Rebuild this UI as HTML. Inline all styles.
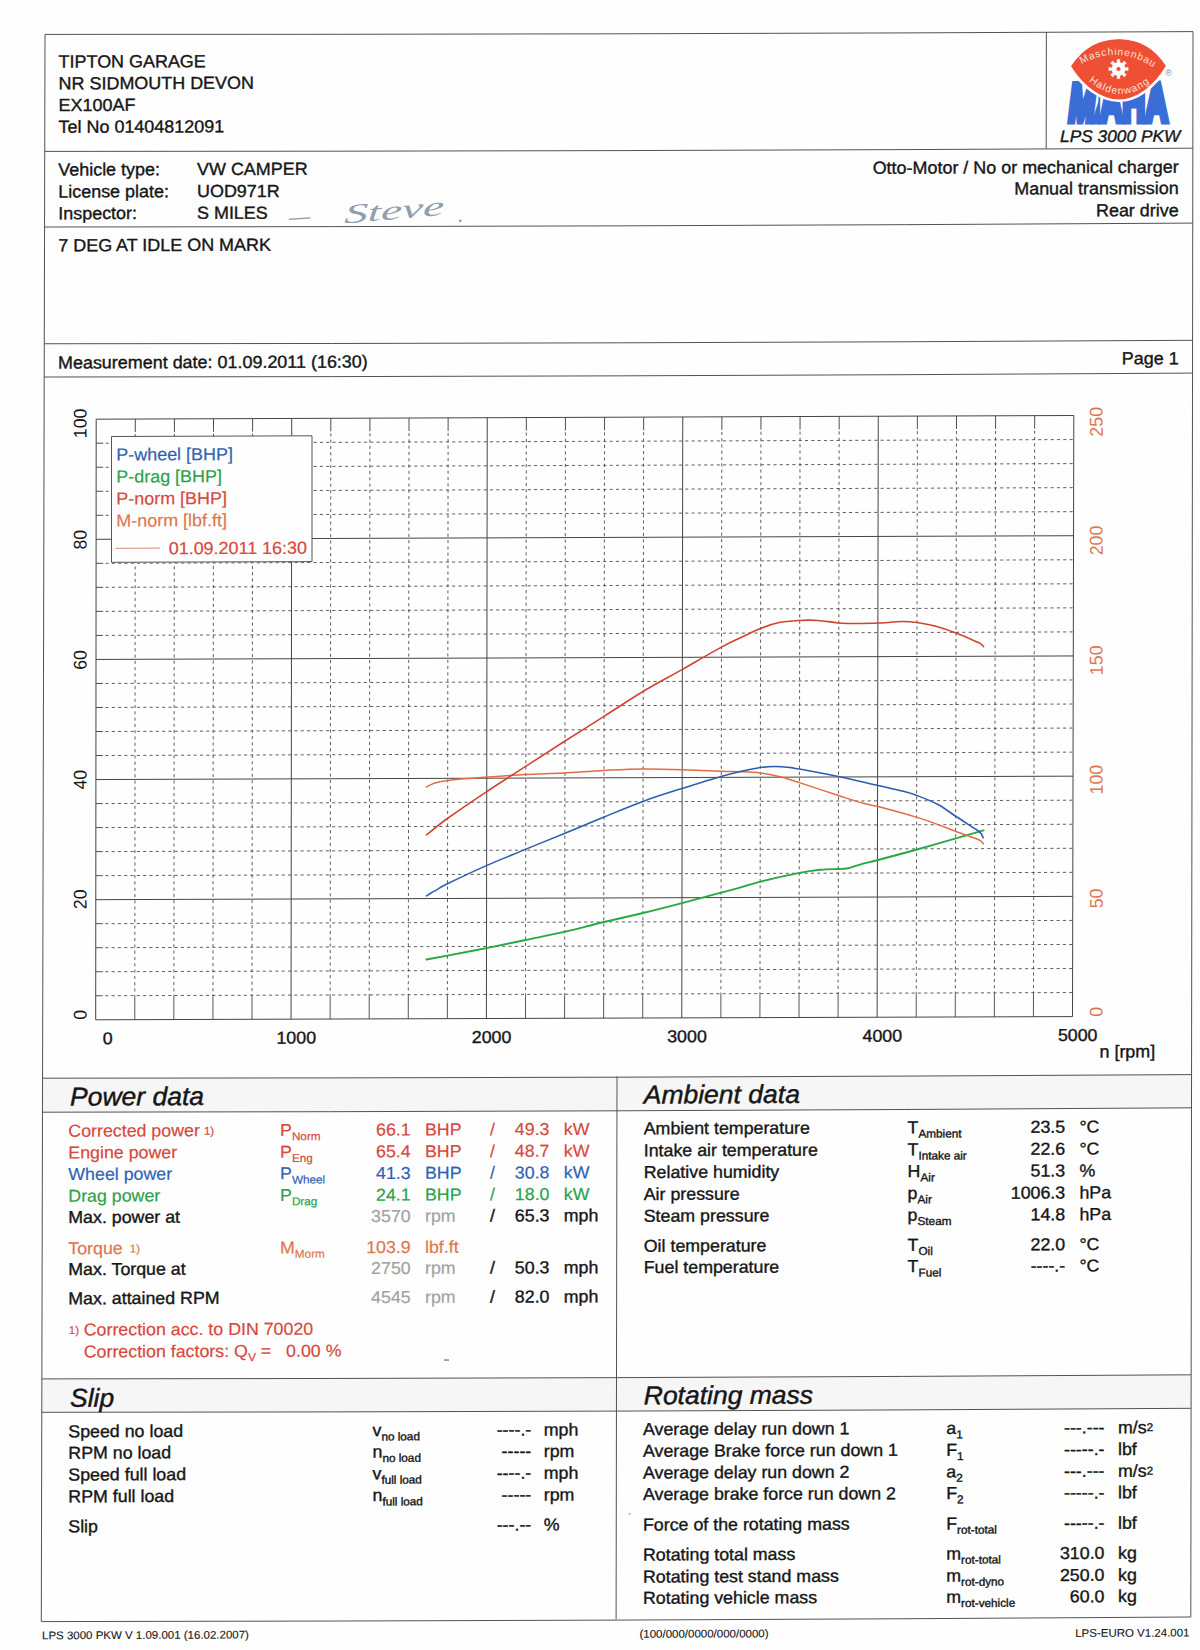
<!DOCTYPE html>
<html lang="en"><head><meta charset="utf-8"><title>LPS 3000 PKW - dyno report</title>
<style>
html,body{margin:0;padding:0;background:#fff}
body{width:1200px;height:1650px;overflow:hidden;position:relative}
svg{position:absolute;left:0;top:0;display:block}
text{font-family:'Liberation Sans', Arial, sans-serif;white-space:pre}
</style></head><body>
<svg width="1200" height="1650" viewBox="0 0 1200 1650">
<rect width="1200" height="1650" fill="#fefefe"/>
<polygon points="42.6,1078.2 1191.5,1074.6 1191.5,1107.8 42.5,1112.2" fill="#f6f6f6"/>
<polygon points="41.9,1378.9 1191.1,1374.8 1191.1,1408.3 41.8,1412.3" fill="#f6f6f6"/>
<polyline points="45.00,34.40 332.00,34.30 619.00,33.80 906.00,32.90 1193.00,31.60" fill="none" stroke="#525252" stroke-width="1"/>
<polyline points="44.73,151.40 331.75,151.20 618.78,150.60 905.81,149.60 1192.84,148.20" fill="none" stroke="#525252" stroke-width="1"/>
<polyline points="44.55,227.00 331.60,226.62 618.64,225.85 905.69,224.67 1192.73,223.10" fill="none" stroke="#525252" stroke-width="1"/>
<polyline points="44.28,343.75 331.35,343.49 618.42,342.82 905.50,341.76 1192.57,340.30" fill="none" stroke="#525252" stroke-width="1"/>
<polyline points="44.20,377.00 331.28,376.62 618.36,375.85 905.44,374.68 1192.52,373.10" fill="none" stroke="#525252" stroke-width="1"/>
<polyline points="42.57,1078.20 329.81,1077.90 617.05,1077.20 904.30,1076.10 1191.54,1074.60" fill="none" stroke="#525252" stroke-width="1"/>
<polyline points="42.49,1112.20 329.74,1111.70 616.99,1110.80 904.24,1109.50 1191.49,1107.80" fill="none" stroke="#525252" stroke-width="1"/>
<polyline points="41.87,1378.90 329.18,1378.47 616.49,1377.65 903.81,1376.42 1191.12,1374.80" fill="none" stroke="#525252" stroke-width="1"/>
<polyline points="41.79,1412.30 329.11,1411.90 616.43,1411.10 903.75,1409.90 1191.07,1408.30" fill="none" stroke="#525252" stroke-width="1"/>
<polyline points="41.30,1621.60 328.67,1621.05 616.04,1620.10 903.41,1618.75 1190.78,1617.00" fill="none" stroke="#525252" stroke-width="1"/>
<line x1="45" y1="34.4" x2="41.3" y2="1621.6" stroke="#525252" stroke-width="1"/>
<line x1="1193" y1="31.6" x2="1190.8" y2="1617" stroke="#525252" stroke-width="1"/>
<line x1="1046.4" y1="32" x2="1046.2" y2="148.6" stroke="#525252" stroke-width="1"/>
<line x1="617" y1="1076.4" x2="616.1" y2="1619.3" stroke="#525252" stroke-width="1"/>
<clipPath id="clipL"><rect x="1050" y="60" width="49.2" height="75"/></clipPath><clipPath id="clipR"><rect x="1098.5" y="60" width="90" height="75"/></clipPath>
<g clip-path="url(#clipL)"><text transform="translate(1072.4,79.4) skewX(-7) translate(0,41.5) scale(0.59,1)" text-anchor="start" font-size="53" font-weight="bold" fill="#3a6ed6" stroke="#3a6ed6" stroke-width="7" stroke-linejoin="miter" stroke-miterlimit="3">MAHA</text></g>
<g clip-path="url(#clipR)"><text transform="translate(1073.95,120.9) scale(0.59,1)" text-anchor="start" font-size="53" font-weight="bold" fill="#3a6ed6" stroke="#3a6ed6" stroke-width="7" stroke-linejoin="miter" stroke-miterlimit="3">MAHA</text></g>
<path d="M1071.8,66.2 C1085,46 1103,39.8 1119,39.8 C1136,39.8 1153,47 1165.2,66 C1153,86 1136,98.8 1119,98.8 C1102,98.8 1084,86 1071.8,66.2 Z" fill="#fff" stroke="#fff" stroke-width="6.5" stroke-linejoin="round"/>
<path d="M1071.8,66.2 C1085,46 1103,39.8 1119,39.8 C1136,39.8 1153,47 1165.2,66 C1153,86 1136,98.8 1119,98.8 C1102,98.8 1084,86 1071.8,66.2 Z" fill="#ee4f35" stroke="#ee4f35" stroke-width="1.2" stroke-linejoin="round"/>
<polygon points="1116.93,62.59 1116.81,59.14 1120.19,59.14 1120.07,62.59 1121.92,63.36 1124.27,60.83 1126.67,63.23 1124.14,65.58 1124.91,67.43 1128.36,67.31 1128.36,70.69 1124.91,70.57 1124.14,72.42 1126.67,74.77 1124.27,77.17 1121.92,74.64 1120.07,75.41 1120.19,78.86 1116.81,78.86 1116.93,75.41 1115.08,74.64 1112.73,77.17 1110.33,74.77 1112.86,72.42 1112.09,70.57 1108.64,70.69 1108.64,67.31 1112.09,67.43 1112.86,65.58 1110.33,63.23 1112.73,60.83 1115.08,63.36" fill="#fff"/>
<circle cx="1118.5" cy="69.0" r="6.7" fill="#fff"/>
<circle cx="1118.5" cy="69.0" r="2.1" fill="#ee4f35"/>
<defs><path id="arcTop" d="M1081.5,64.2 Q1117,44.6 1152.2,66.6"/><path id="arcBot" d="M1088.6,81.2 Q1120,106.2 1149.8,82.6"/></defs>
<text font-size="10.2" fill="#fbe3d0" letter-spacing="0.2"><textPath href="#arcTop" textLength="76" lengthAdjust="spacing">Maschinenbau</textPath></text>
<text font-size="10.2" fill="#fbe3d0" letter-spacing="0.2"><textPath href="#arcBot" textLength="67" lengthAdjust="spacing">Haldenwang</textPath></text>
<text x="1168.6" y="76.2" font-size="9.5" fill="#6d8fc4" text-anchor="middle">®</text>
<text transform="translate(289.5,224.5) rotate(-4) scale(1.9,1)" style="font-family:'Liberation Serif','DejaVu Serif',serif" font-style="italic" font-size="22" fill="#939dab">–</text>
<text transform="translate(344,223.6) rotate(-5) skewX(-8)" style="font-family:'Liberation Serif','DejaVu Serif',serif" font-style="italic" font-size="27" fill="#939dab" textLength="100" lengthAdjust="spacingAndGlyphs">Steve</text>
<text x="457.5" y="221.6" style="font-family:'Liberation Serif',serif" font-size="22" fill="#939dab">.</text>
<text transform="matrix(1,-0.0026,0,0.972,58.60,67.50)" font-size="17.95" fill="#161616" text-anchor="start" font-style="normal" font-weight="normal" stroke="#161616" stroke-width="0.38" >TIPTON GARAGE</text>
<text transform="matrix(1,-0.0026,0,0.972,58.60,89.25)" font-size="17.95" fill="#161616" text-anchor="start" font-style="normal" font-weight="normal" stroke="#161616" stroke-width="0.38" >NR SIDMOUTH DEVON</text>
<text transform="matrix(1,-0.0026,0,0.972,58.60,111.00)" font-size="17.95" fill="#161616" text-anchor="start" font-style="normal" font-weight="normal" stroke="#161616" stroke-width="0.38" >EX100AF</text>
<text transform="matrix(1,-0.0026,0,0.972,58.60,132.75)" font-size="17.95" fill="#161616" text-anchor="start" font-style="normal" font-weight="normal" stroke="#161616" stroke-width="0.38" >Tel No 01404812091</text>
<text transform="matrix(1,-0.0026,0,0.972,1060.00,142.10)" font-size="17.34" fill="#161616" text-anchor="start" font-style="italic" font-weight="normal" stroke="#161616" stroke-width="0.38" >LPS 3000 PKW</text>
<text transform="matrix(1,-0.0031,0,0.972,58.25,175.50)" font-size="17.95" fill="#161616" text-anchor="start" font-style="normal" font-weight="normal" stroke="#161616" stroke-width="0.38" >Vehicle type:</text>
<text transform="matrix(1,-0.0031,0,0.972,197.00,175.10)" font-size="17.95" fill="#161616" text-anchor="start" font-style="normal" font-weight="normal" stroke="#161616" stroke-width="0.38" >VW CAMPER</text>
<text transform="matrix(1,-0.0031,0,0.972,58.25,197.50)" font-size="17.95" fill="#161616" text-anchor="start" font-style="normal" font-weight="normal" stroke="#161616" stroke-width="0.38" >License plate:</text>
<text transform="matrix(1,-0.0031,0,0.972,197.00,197.10)" font-size="17.95" fill="#161616" text-anchor="start" font-style="normal" font-weight="normal" stroke="#161616" stroke-width="0.38" >UOD971R</text>
<text transform="matrix(1,-0.0031,0,0.972,58.25,219.25)" font-size="17.95" fill="#161616" text-anchor="start" font-style="normal" font-weight="normal" stroke="#161616" stroke-width="0.38" >Inspector:</text>
<text transform="matrix(1,-0.0031,0,0.972,197.00,218.85)" font-size="17.95" fill="#161616" text-anchor="start" font-style="normal" font-weight="normal" stroke="#161616" stroke-width="0.38" >S MILES</text>
<text transform="matrix(1,-0.0031,0,0.972,1178.70,172.80)" font-size="17.95" fill="#161616" text-anchor="end" font-style="normal" font-weight="normal" stroke="#161616" stroke-width="0.38" >Otto-Motor / No or mechanical charger</text>
<text transform="matrix(1,-0.0031,0,0.972,1178.70,194.00)" font-size="17.95" fill="#161616" text-anchor="end" font-style="normal" font-weight="normal" stroke="#161616" stroke-width="0.38" >Manual transmission</text>
<text transform="matrix(1,-0.0031,0,0.972,1178.70,216.10)" font-size="17.95" fill="#161616" text-anchor="end" font-style="normal" font-weight="normal" stroke="#161616" stroke-width="0.38" >Rear drive</text>
<text transform="matrix(1,-0.0031,0,0.972,58.25,251.25)" font-size="17.95" fill="#161616" text-anchor="start" font-style="normal" font-weight="normal" stroke="#161616" stroke-width="0.38" >7 DEG AT IDLE ON MARK</text>
<text transform="matrix(1,-0.0031,0,0.972,58.00,368.50)" font-size="17.95" fill="#161616" text-anchor="start" font-style="normal" font-weight="normal" stroke="#161616" stroke-width="0.38" >Measurement date: 01.09.2011 (16:30)</text>
<text transform="matrix(1,-0.0031,0,0.972,1178.70,364.10)" font-size="17.95" fill="#161616" text-anchor="end" font-style="normal" font-weight="normal" stroke="#161616" stroke-width="0.38" >Page 1</text>
<line x1="96.20" y1="419.20" x2="95.70" y2="1019.80" stroke="#444444" stroke-width="1"/>
<line x1="135.30" y1="419.05" x2="135.29" y2="432.07" stroke="#444444" stroke-width="0.95"/>
<line x1="135.29" y1="434.07" x2="134.79" y2="996.85" stroke="#484848" stroke-width="0.88" stroke-dasharray="3.1 3.2"/>
<line x1="134.79" y1="996.85" x2="134.77" y2="1019.67" stroke="#444444" stroke-width="0.9"/>
<line x1="174.41" y1="418.90" x2="174.40" y2="431.92" stroke="#444444" stroke-width="0.95"/>
<line x1="174.40" y1="433.92" x2="173.87" y2="996.72" stroke="#484848" stroke-width="0.88" stroke-dasharray="3.1 3.2"/>
<line x1="173.87" y1="996.72" x2="173.84" y2="1019.54" stroke="#444444" stroke-width="0.9"/>
<line x1="213.51" y1="418.76" x2="213.50" y2="431.77" stroke="#444444" stroke-width="0.95"/>
<line x1="213.50" y1="433.77" x2="212.94" y2="996.59" stroke="#484848" stroke-width="0.88" stroke-dasharray="3.1 3.2"/>
<line x1="212.94" y1="996.59" x2="212.92" y2="1019.42" stroke="#444444" stroke-width="0.9"/>
<line x1="252.62" y1="418.61" x2="252.60" y2="431.62" stroke="#444444" stroke-width="0.95"/>
<line x1="252.60" y1="433.62" x2="252.01" y2="996.46" stroke="#484848" stroke-width="0.88" stroke-dasharray="3.1 3.2"/>
<line x1="252.01" y1="996.46" x2="251.99" y2="1019.29" stroke="#444444" stroke-width="0.9"/>
<line x1="291.72" y1="418.46" x2="291.06" y2="1019.16" stroke="#444444" stroke-width="1"/>
<line x1="330.82" y1="418.31" x2="330.81" y2="431.33" stroke="#444444" stroke-width="0.95"/>
<line x1="330.81" y1="433.33" x2="330.16" y2="996.20" stroke="#484848" stroke-width="0.88" stroke-dasharray="3.1 3.2"/>
<line x1="330.16" y1="996.20" x2="330.13" y2="1019.03" stroke="#444444" stroke-width="0.9"/>
<line x1="369.93" y1="418.16" x2="369.91" y2="431.18" stroke="#444444" stroke-width="0.95"/>
<line x1="369.91" y1="433.18" x2="369.23" y2="996.08" stroke="#484848" stroke-width="0.88" stroke-dasharray="3.1 3.2"/>
<line x1="369.23" y1="996.08" x2="369.20" y2="1018.90" stroke="#444444" stroke-width="0.9"/>
<line x1="409.03" y1="418.02" x2="409.02" y2="431.03" stroke="#444444" stroke-width="0.95"/>
<line x1="409.02" y1="433.03" x2="408.30" y2="995.95" stroke="#484848" stroke-width="0.88" stroke-dasharray="3.1 3.2"/>
<line x1="408.30" y1="995.95" x2="408.28" y2="1018.78" stroke="#444444" stroke-width="0.9"/>
<line x1="448.14" y1="417.87" x2="448.12" y2="430.88" stroke="#444444" stroke-width="0.95"/>
<line x1="448.12" y1="432.88" x2="447.38" y2="995.82" stroke="#484848" stroke-width="0.88" stroke-dasharray="3.1 3.2"/>
<line x1="447.38" y1="995.82" x2="447.35" y2="1018.65" stroke="#444444" stroke-width="0.9"/>
<line x1="487.24" y1="417.72" x2="486.42" y2="1018.52" stroke="#444444" stroke-width="1"/>
<line x1="526.34" y1="417.57" x2="526.33" y2="430.59" stroke="#444444" stroke-width="0.95"/>
<line x1="526.33" y1="432.59" x2="525.52" y2="995.56" stroke="#484848" stroke-width="0.88" stroke-dasharray="3.1 3.2"/>
<line x1="525.52" y1="995.56" x2="525.49" y2="1018.39" stroke="#444444" stroke-width="0.9"/>
<line x1="565.45" y1="417.42" x2="565.43" y2="430.44" stroke="#444444" stroke-width="0.95"/>
<line x1="565.43" y1="432.44" x2="564.60" y2="995.43" stroke="#484848" stroke-width="0.88" stroke-dasharray="3.1 3.2"/>
<line x1="564.60" y1="995.43" x2="564.56" y2="1018.26" stroke="#444444" stroke-width="0.9"/>
<line x1="604.55" y1="417.28" x2="604.53" y2="430.29" stroke="#444444" stroke-width="0.95"/>
<line x1="604.53" y1="432.29" x2="603.67" y2="995.30" stroke="#484848" stroke-width="0.88" stroke-dasharray="3.1 3.2"/>
<line x1="603.67" y1="995.30" x2="603.64" y2="1018.14" stroke="#444444" stroke-width="0.9"/>
<line x1="643.66" y1="417.13" x2="643.64" y2="430.15" stroke="#444444" stroke-width="0.95"/>
<line x1="643.64" y1="432.15" x2="642.74" y2="995.17" stroke="#484848" stroke-width="0.88" stroke-dasharray="3.1 3.2"/>
<line x1="642.74" y1="995.17" x2="642.71" y2="1018.01" stroke="#444444" stroke-width="0.9"/>
<line x1="682.76" y1="416.98" x2="681.78" y2="1017.88" stroke="#444444" stroke-width="1"/>
<line x1="721.86" y1="416.83" x2="721.84" y2="429.85" stroke="#444444" stroke-width="0.95"/>
<line x1="721.84" y1="431.85" x2="720.89" y2="994.92" stroke="#484848" stroke-width="0.88" stroke-dasharray="3.1 3.2"/>
<line x1="720.89" y1="994.92" x2="720.85" y2="1017.75" stroke="#444444" stroke-width="0.9"/>
<line x1="760.97" y1="416.68" x2="760.95" y2="429.70" stroke="#444444" stroke-width="0.95"/>
<line x1="760.95" y1="431.70" x2="759.96" y2="994.79" stroke="#484848" stroke-width="0.88" stroke-dasharray="3.1 3.2"/>
<line x1="759.96" y1="994.79" x2="759.92" y2="1017.62" stroke="#444444" stroke-width="0.9"/>
<line x1="800.07" y1="416.54" x2="800.05" y2="429.56" stroke="#444444" stroke-width="0.95"/>
<line x1="800.05" y1="431.56" x2="799.04" y2="994.66" stroke="#484848" stroke-width="0.88" stroke-dasharray="3.1 3.2"/>
<line x1="799.04" y1="994.66" x2="799.00" y2="1017.50" stroke="#444444" stroke-width="0.9"/>
<line x1="839.18" y1="416.39" x2="839.15" y2="429.41" stroke="#444444" stroke-width="0.95"/>
<line x1="839.15" y1="431.41" x2="838.11" y2="994.53" stroke="#484848" stroke-width="0.88" stroke-dasharray="3.1 3.2"/>
<line x1="838.11" y1="994.53" x2="838.07" y2="1017.37" stroke="#444444" stroke-width="0.9"/>
<line x1="878.28" y1="416.24" x2="877.14" y2="1017.24" stroke="#444444" stroke-width="1"/>
<line x1="917.38" y1="416.09" x2="917.36" y2="429.11" stroke="#444444" stroke-width="0.95"/>
<line x1="917.36" y1="431.11" x2="916.26" y2="994.27" stroke="#484848" stroke-width="0.88" stroke-dasharray="3.1 3.2"/>
<line x1="916.26" y1="994.27" x2="916.21" y2="1017.11" stroke="#444444" stroke-width="0.9"/>
<line x1="956.49" y1="415.94" x2="956.46" y2="428.97" stroke="#444444" stroke-width="0.95"/>
<line x1="956.46" y1="430.97" x2="955.33" y2="994.14" stroke="#484848" stroke-width="0.88" stroke-dasharray="3.1 3.2"/>
<line x1="955.33" y1="994.14" x2="955.28" y2="1016.98" stroke="#444444" stroke-width="0.9"/>
<line x1="995.59" y1="415.80" x2="995.57" y2="428.82" stroke="#444444" stroke-width="0.95"/>
<line x1="995.57" y1="430.82" x2="994.40" y2="994.02" stroke="#484848" stroke-width="0.88" stroke-dasharray="3.1 3.2"/>
<line x1="994.40" y1="994.02" x2="994.36" y2="1016.86" stroke="#444444" stroke-width="0.9"/>
<line x1="1034.70" y1="415.65" x2="1034.67" y2="428.67" stroke="#444444" stroke-width="0.95"/>
<line x1="1034.67" y1="430.67" x2="1033.48" y2="993.89" stroke="#484848" stroke-width="0.88" stroke-dasharray="3.1 3.2"/>
<line x1="1033.48" y1="993.89" x2="1033.43" y2="1016.73" stroke="#444444" stroke-width="0.9"/>
<line x1="1073.80" y1="415.50" x2="1072.50" y2="1016.60" stroke="#444444" stroke-width="1"/>
<line x1="96.20" y1="419.20" x2="1073.80" y2="415.50" stroke="#444444" stroke-width="1"/>
<line x1="96.18" y1="443.22" x2="103.18" y2="443.20" stroke="#444444" stroke-width="0.95"/>
<line x1="105.68" y1="443.20" x2="1073.75" y2="439.54" stroke="#484848" stroke-width="0.88" stroke-dasharray="3.1 3.2"/>
<line x1="96.16" y1="467.25" x2="103.16" y2="467.22" stroke="#444444" stroke-width="0.95"/>
<line x1="105.66" y1="467.22" x2="1073.70" y2="463.59" stroke="#484848" stroke-width="0.88" stroke-dasharray="3.1 3.2"/>
<line x1="96.14" y1="491.27" x2="103.14" y2="491.25" stroke="#444444" stroke-width="0.95"/>
<line x1="105.64" y1="491.25" x2="1073.64" y2="487.63" stroke="#484848" stroke-width="0.88" stroke-dasharray="3.1 3.2"/>
<line x1="96.12" y1="515.30" x2="103.12" y2="515.27" stroke="#444444" stroke-width="0.95"/>
<line x1="105.62" y1="515.27" x2="1073.59" y2="511.68" stroke="#484848" stroke-width="0.88" stroke-dasharray="3.1 3.2"/>
<line x1="96.10" y1="539.32" x2="1073.54" y2="535.72" stroke="#444444" stroke-width="1"/>
<line x1="96.08" y1="563.34" x2="103.08" y2="563.32" stroke="#444444" stroke-width="0.95"/>
<line x1="105.58" y1="563.32" x2="1073.49" y2="559.76" stroke="#484848" stroke-width="0.88" stroke-dasharray="3.1 3.2"/>
<line x1="96.06" y1="587.37" x2="103.06" y2="587.34" stroke="#444444" stroke-width="0.95"/>
<line x1="105.56" y1="587.34" x2="1073.44" y2="583.81" stroke="#484848" stroke-width="0.88" stroke-dasharray="3.1 3.2"/>
<line x1="96.04" y1="611.39" x2="103.04" y2="611.37" stroke="#444444" stroke-width="0.95"/>
<line x1="105.54" y1="611.37" x2="1073.38" y2="607.85" stroke="#484848" stroke-width="0.88" stroke-dasharray="3.1 3.2"/>
<line x1="96.02" y1="635.42" x2="103.02" y2="635.39" stroke="#444444" stroke-width="0.95"/>
<line x1="105.52" y1="635.39" x2="1073.33" y2="631.90" stroke="#484848" stroke-width="0.88" stroke-dasharray="3.1 3.2"/>
<line x1="96.00" y1="659.44" x2="1073.28" y2="655.94" stroke="#444444" stroke-width="1"/>
<line x1="95.98" y1="683.46" x2="102.98" y2="683.44" stroke="#444444" stroke-width="0.95"/>
<line x1="105.48" y1="683.44" x2="1073.23" y2="679.98" stroke="#484848" stroke-width="0.88" stroke-dasharray="3.1 3.2"/>
<line x1="95.96" y1="707.49" x2="102.96" y2="707.46" stroke="#444444" stroke-width="0.95"/>
<line x1="105.46" y1="707.46" x2="1073.18" y2="704.03" stroke="#484848" stroke-width="0.88" stroke-dasharray="3.1 3.2"/>
<line x1="95.94" y1="731.51" x2="102.94" y2="731.49" stroke="#444444" stroke-width="0.95"/>
<line x1="105.44" y1="731.49" x2="1073.12" y2="728.07" stroke="#484848" stroke-width="0.88" stroke-dasharray="3.1 3.2"/>
<line x1="95.92" y1="755.54" x2="102.92" y2="755.51" stroke="#444444" stroke-width="0.95"/>
<line x1="105.42" y1="755.51" x2="1073.07" y2="752.12" stroke="#484848" stroke-width="0.88" stroke-dasharray="3.1 3.2"/>
<line x1="95.90" y1="779.56" x2="1073.02" y2="776.16" stroke="#444444" stroke-width="1"/>
<line x1="95.88" y1="803.58" x2="102.88" y2="803.56" stroke="#444444" stroke-width="0.95"/>
<line x1="105.38" y1="803.56" x2="1072.97" y2="800.20" stroke="#484848" stroke-width="0.88" stroke-dasharray="3.1 3.2"/>
<line x1="95.86" y1="827.61" x2="102.86" y2="827.58" stroke="#444444" stroke-width="0.95"/>
<line x1="105.36" y1="827.58" x2="1072.92" y2="824.25" stroke="#484848" stroke-width="0.88" stroke-dasharray="3.1 3.2"/>
<line x1="95.84" y1="851.63" x2="102.84" y2="851.61" stroke="#444444" stroke-width="0.95"/>
<line x1="105.34" y1="851.61" x2="1072.86" y2="848.29" stroke="#484848" stroke-width="0.88" stroke-dasharray="3.1 3.2"/>
<line x1="95.82" y1="875.66" x2="102.82" y2="875.63" stroke="#444444" stroke-width="0.95"/>
<line x1="105.32" y1="875.63" x2="1072.81" y2="872.34" stroke="#484848" stroke-width="0.88" stroke-dasharray="3.1 3.2"/>
<line x1="95.80" y1="899.68" x2="1072.76" y2="896.38" stroke="#444444" stroke-width="1"/>
<line x1="95.78" y1="923.70" x2="102.78" y2="923.68" stroke="#444444" stroke-width="0.95"/>
<line x1="105.28" y1="923.68" x2="1072.71" y2="920.42" stroke="#484848" stroke-width="0.88" stroke-dasharray="3.1 3.2"/>
<line x1="95.76" y1="947.73" x2="102.76" y2="947.70" stroke="#444444" stroke-width="0.95"/>
<line x1="105.26" y1="947.70" x2="1072.66" y2="944.47" stroke="#484848" stroke-width="0.88" stroke-dasharray="3.1 3.2"/>
<line x1="95.74" y1="971.75" x2="102.74" y2="971.73" stroke="#444444" stroke-width="0.95"/>
<line x1="105.24" y1="971.73" x2="1072.60" y2="968.51" stroke="#484848" stroke-width="0.88" stroke-dasharray="3.1 3.2"/>
<line x1="95.72" y1="995.78" x2="102.72" y2="995.75" stroke="#444444" stroke-width="0.95"/>
<line x1="105.22" y1="995.75" x2="1072.55" y2="992.56" stroke="#484848" stroke-width="0.88" stroke-dasharray="3.1 3.2"/>
<line x1="95.70" y1="1019.80" x2="1072.50" y2="1016.60" stroke="#444444" stroke-width="1"/>
<text transform="matrix(1,-0.0036,0,0.972,107.75,1044.20)" font-size="17.8" fill="#161616" text-anchor="middle" font-style="normal" font-weight="normal" stroke="#161616" stroke-width="0.38" >0</text>
<text transform="matrix(1,-0.0036,0,0.972,296.26,1043.56)" font-size="17.8" fill="#161616" text-anchor="middle" font-style="normal" font-weight="normal" stroke="#161616" stroke-width="0.38" >1000</text>
<text transform="matrix(1,-0.0036,0,0.972,491.62,1042.92)" font-size="17.8" fill="#161616" text-anchor="middle" font-style="normal" font-weight="normal" stroke="#161616" stroke-width="0.38" >2000</text>
<text transform="matrix(1,-0.0036,0,0.972,686.98,1042.28)" font-size="17.8" fill="#161616" text-anchor="middle" font-style="normal" font-weight="normal" stroke="#161616" stroke-width="0.38" >3000</text>
<text transform="matrix(1,-0.0036,0,0.972,882.34,1041.64)" font-size="17.8" fill="#161616" text-anchor="middle" font-style="normal" font-weight="normal" stroke="#161616" stroke-width="0.38" >4000</text>
<text transform="matrix(1,-0.0036,0,0.972,1077.70,1041.00)" font-size="17.8" fill="#161616" text-anchor="middle" font-style="normal" font-weight="normal" stroke="#161616" stroke-width="0.38" >5000</text>
<text transform="matrix(1,-0.0036,0,0.972,1099.50,1057.50)" font-size="17.9" fill="#161616" text-anchor="start" font-style="normal" font-weight="normal" stroke="#161616" stroke-width="0.38" >n [rpm]</text>
<text transform="translate(86.40,423.40) rotate(-90.2) scale(1,1.0288)" font-size="17.8" fill="#161616" text-anchor="middle">100</text>
<text transform="translate(86.40,539.70) rotate(-90.2) scale(1,1.0288)" font-size="17.8" fill="#161616" text-anchor="middle">80</text>
<text transform="translate(86.40,659.90) rotate(-90.2) scale(1,1.0288)" font-size="17.8" fill="#161616" text-anchor="middle">60</text>
<text transform="translate(86.40,779.70) rotate(-90.2) scale(1,1.0288)" font-size="17.8" fill="#161616" text-anchor="middle">40</text>
<text transform="translate(86.40,899.30) rotate(-90.2) scale(1,1.0288)" font-size="17.8" fill="#161616" text-anchor="middle">20</text>
<text transform="translate(86.40,1014.70) rotate(-90.2) scale(1,1.0288)" font-size="17.8" fill="#161616" text-anchor="middle">0</text>
<text transform="translate(1102.60,421.80) rotate(-90.2) scale(1,1.0288)" font-size="17.8" fill="#e0764e" text-anchor="middle">250</text>
<text transform="translate(1102.60,540.50) rotate(-90.2) scale(1,1.0288)" font-size="17.8" fill="#e0764e" text-anchor="middle">200</text>
<text transform="translate(1102.60,660.30) rotate(-90.2) scale(1,1.0288)" font-size="17.8" fill="#e0764e" text-anchor="middle">150</text>
<text transform="translate(1102.60,779.60) rotate(-90.2) scale(1,1.0288)" font-size="17.8" fill="#e0764e" text-anchor="middle">100</text>
<text transform="translate(1102.60,898.40) rotate(-90.2) scale(1,1.0288)" font-size="17.8" fill="#e0764e" text-anchor="middle">50</text>
<text transform="translate(1102.60,1011.90) rotate(-90.2) scale(1,1.0288)" font-size="17.8" fill="#e0764e" text-anchor="middle">0</text>
<path d="M426.4,959.5 C429.9,958.9 437.4,957.5 447.4,955.6 C457.4,953.7 473.4,950.7 486.4,948.1 C499.4,945.5 512.4,942.7 525.4,940.0 C538.4,937.3 551.3,934.9 564.4,931.9 C577.5,928.9 590.9,925.1 604.0,922.0 C617.1,918.9 630.0,916.1 643.0,913.0 C656.0,909.9 669.0,906.5 682.0,903.1 C695.0,899.7 711.3,895.2 721.0,892.6 C730.7,890.0 733.4,889.4 740.0,887.6 C746.6,885.8 750.5,884.1 760.4,881.6 C770.3,879.1 789.3,874.9 799.4,872.9 C809.5,870.9 814.5,870.4 821.0,869.7 C827.5,869.1 833.9,869.2 838.4,869.0 C842.9,868.8 844.4,869.0 848.0,868.3 C851.6,867.6 855.0,866.0 860.0,864.6 C865.0,863.2 868.5,862.5 878.0,860.0 C887.5,857.5 904.0,853.1 917.0,849.5 C930.0,845.9 944.9,841.6 956.0,838.4 C967.1,835.2 979.0,831.7 983.6,830.4" fill="none" stroke="#27a845" stroke-width="1.9" stroke-linejoin="round" stroke-linecap="round"/>
<path d="M426.4,787.0 C427.2,786.6 429.4,785.3 431.0,784.6 C432.6,783.9 434.3,783.3 436.0,782.8 C437.7,782.3 439.1,782.0 441.0,781.6 C442.9,781.2 443.1,781.1 447.4,780.6 C451.7,780.1 460.5,779.2 467.0,778.6 C473.5,778.0 476.7,777.8 486.4,777.1 C496.1,776.4 512.4,775.2 525.4,774.5 C538.4,773.8 551.3,773.6 564.4,772.9 C577.5,772.2 590.9,771.0 604.0,770.4 C617.1,769.8 630.0,769.1 643.0,769.0 C656.0,768.9 669.0,769.3 682.0,769.7 C695.0,770.1 711.3,770.9 721.0,771.2 C730.7,771.5 733.4,771.4 740.0,771.7 C746.6,772.0 753.9,772.2 760.4,773.0 C766.9,773.8 772.5,775.0 779.0,776.6 C785.5,778.2 789.5,779.5 799.4,782.6 C809.3,785.8 828.3,792.2 838.4,795.5 C848.5,798.8 853.4,800.5 860.0,802.4 C866.6,804.2 868.5,804.1 878.0,806.6 C887.5,809.1 907.0,814.4 917.0,817.4 C927.0,820.4 931.5,822.2 938.0,824.6 C944.5,827.0 949.5,829.1 956.0,831.5 C962.5,833.9 972.8,837.4 977.0,839.0 C981.2,840.6 979.9,840.4 981.0,841.2 C982.1,842.0 983.0,843.4 983.4,843.8" fill="none" stroke="#e26c44" stroke-width="1.5" stroke-linejoin="round" stroke-linecap="round"/>
<path d="M426.4,835.0 C429.9,832.2 437.4,825.7 447.4,818.5 C457.4,811.3 473.3,800.5 486.4,791.8 C499.5,783.1 512.9,774.7 526.0,766.2 C539.1,757.7 552.0,749.3 565.0,741.0 C578.0,732.7 591.0,724.6 604.0,716.4 C617.0,708.1 630.0,699.3 643.0,691.5 C656.0,683.7 669.0,677.0 682.0,669.6 C695.0,662.2 711.3,652.7 721.0,647.4 C730.7,642.1 733.4,641.1 740.0,638.0 C746.6,634.9 753.9,631.1 760.4,628.5 C766.9,625.9 772.5,624.0 779.0,622.6 C785.5,621.2 792.9,620.8 799.4,620.4 C805.9,620.0 811.5,620.0 818.0,620.4 C824.5,620.8 831.4,622.4 838.4,622.9 C845.4,623.4 853.4,623.4 860.0,623.4 C866.6,623.4 871.0,623.4 878.0,623.1 C885.0,622.8 895.5,621.7 902.0,621.6 C908.5,621.5 911.5,621.8 917.0,622.5 C922.5,623.2 928.5,624.4 935.0,626.1 C941.5,627.9 949.0,630.4 956.0,633.0 C963.0,635.6 972.8,640.1 977.0,642.0 C981.2,643.9 980.4,643.5 981.5,644.3 C982.6,645.1 983.2,646.4 983.6,646.8" fill="none" stroke="#d0432f" stroke-width="1.55" stroke-linejoin="round" stroke-linecap="round"/>
<path d="M426.4,895.9 C427.2,895.4 429.2,894.0 431.0,893.0 C432.8,892.0 434.3,891.1 437.0,889.6 C439.7,888.1 439.2,887.8 447.4,883.8 C455.6,879.8 473.4,871.3 486.4,865.6 C499.4,859.9 512.4,854.8 525.4,849.4 C538.4,844.0 551.3,838.9 564.4,833.5 C577.5,828.1 590.9,822.4 604.0,817.0 C617.1,811.6 630.0,806.1 643.0,801.4 C656.0,796.6 669.0,792.6 682.0,788.5 C695.0,784.4 711.3,779.3 721.0,776.5 C730.7,773.7 733.4,773.1 740.0,771.6 C746.6,770.1 754.6,768.5 760.4,767.6 C766.1,766.7 769.6,766.4 774.5,766.4 C779.4,766.4 785.9,767.0 790.0,767.5 C794.1,768.0 791.3,767.6 799.4,769.1 C807.5,770.6 825.3,773.9 838.4,776.6 C851.5,779.4 867.4,783.2 878.0,785.6 C888.6,788.0 895.5,789.4 902.0,791.0 C908.5,792.6 911.0,793.2 917.0,795.5 C923.0,797.8 931.5,801.0 938.0,804.5 C944.5,808.0 949.5,812.2 956.0,816.5 C962.5,820.8 972.8,827.2 977.0,830.0 C981.2,832.8 980.0,832.2 981.0,833.5 C982.0,834.8 982.9,837.1 983.3,837.8" fill="none" stroke="#2d5db0" stroke-width="1.55" stroke-linejoin="round" stroke-linecap="round"/>
<polygon points="111.5,436.5 312,435.8 312,561.6 111.5,562.3" fill="#fefefe" stroke="#555" stroke-width="1"/>
<text transform="matrix(1,-0.0036,0,0.972,116.30,460.50)" font-size="17.95" fill="#2f62b4" text-anchor="start" font-style="normal" font-weight="normal" stroke="#2f62b4" stroke-width="0.20" >P-wheel [BHP]</text>
<text transform="matrix(1,-0.0036,0,0.972,116.30,482.50)" font-size="17.95" fill="#2da14a" text-anchor="start" font-style="normal" font-weight="normal" stroke="#2da14a" stroke-width="0.20" >P-drag [BHP]</text>
<text transform="matrix(1,-0.0036,0,0.972,116.30,504.50)" font-size="17.95" fill="#d8483c" text-anchor="start" font-style="normal" font-weight="normal" stroke="#d8483c" stroke-width="0.20" >P-norm [BHP]</text>
<text transform="matrix(1,-0.0036,0,0.972,116.30,526.50)" font-size="17.95" fill="#e0764e" text-anchor="start" font-style="normal" font-weight="normal" stroke="#e0764e" stroke-width="0.20" >M-norm [lbf.ft]</text>
<line x1="115.5" y1="548.3" x2="160" y2="548.1" stroke="#d98a78" stroke-width="1"/>
<text transform="matrix(1,-0.0036,0,0.972,168.70,554.30)" font-size="17.95" fill="#d8483c" text-anchor="start" font-style="normal" font-weight="normal" stroke="#d8483c" stroke-width="0.20" >01.09.2011 16:30</text>
<text transform="matrix(1,-0.0037,0,0.972,70.00,1105.50)" font-size="26.5" fill="#161616" text-anchor="start" font-style="italic" font-weight="normal" stroke="#161616" stroke-width="0.46" >Power data</text>
<text transform="matrix(1,-0.0037,0,0.972,68.30,1136.75)" font-size="17.8" fill="#d8483c" text-anchor="start" font-style="normal" font-weight="normal" stroke="#d8483c" stroke-width="0.20" >Corrected power <tspan font-size="11.5" dx="-0.9" dy="-1.5">1)</tspan></text>
<text transform="matrix(1,-0.0037,0,0.972,280.00,1135.97)" font-size="17.8" fill="#d8483c" text-anchor="start" font-style="normal" font-weight="normal" stroke="#d8483c" stroke-width="0.20" >P<tspan font-size="11.75" dy="4.5">Norm</tspan></text>
<text transform="matrix(1,-0.0037,0,0.972,410.70,1135.49)" font-size="17.8" fill="#d8483c" text-anchor="end" font-style="normal" font-weight="normal" stroke="#d8483c" stroke-width="0.20" >66.1</text>
<text transform="matrix(1,-0.0037,0,0.972,425.00,1135.43)" font-size="17.8" fill="#d8483c" text-anchor="start" font-style="normal" font-weight="normal" stroke="#d8483c" stroke-width="0.20" >BHP</text>
<text transform="matrix(1,-0.0037,0,0.972,490.00,1135.19)" font-size="17.8" fill="#d8483c" text-anchor="start" font-style="normal" font-weight="normal" stroke="#d8483c" stroke-width="0.20" >/</text>
<text transform="matrix(1,-0.0037,0,0.972,549.50,1134.98)" font-size="17.8" fill="#d8483c" text-anchor="end" font-style="normal" font-weight="normal" stroke="#d8483c" stroke-width="0.20" >49.3</text>
<text transform="matrix(1,-0.0037,0,0.972,563.75,1134.92)" font-size="17.8" fill="#d8483c" text-anchor="start" font-style="normal" font-weight="normal" stroke="#d8483c" stroke-width="0.20" >kW</text>
<text transform="matrix(1,-0.0037,0,0.972,68.30,1158.50)" font-size="17.8" fill="#d8483c" text-anchor="start" font-style="normal" font-weight="normal" stroke="#d8483c" stroke-width="0.20" >Engine power</text>
<text transform="matrix(1,-0.0037,0,0.972,280.00,1157.72)" font-size="17.8" fill="#d8483c" text-anchor="start" font-style="normal" font-weight="normal" stroke="#d8483c" stroke-width="0.20" >P<tspan font-size="11.75" dy="4.5">Eng</tspan></text>
<text transform="matrix(1,-0.0037,0,0.972,410.70,1157.24)" font-size="17.8" fill="#d8483c" text-anchor="end" font-style="normal" font-weight="normal" stroke="#d8483c" stroke-width="0.20" >65.4</text>
<text transform="matrix(1,-0.0037,0,0.972,425.00,1157.18)" font-size="17.8" fill="#d8483c" text-anchor="start" font-style="normal" font-weight="normal" stroke="#d8483c" stroke-width="0.20" >BHP</text>
<text transform="matrix(1,-0.0037,0,0.972,490.00,1156.94)" font-size="17.8" fill="#d8483c" text-anchor="start" font-style="normal" font-weight="normal" stroke="#d8483c" stroke-width="0.20" >/</text>
<text transform="matrix(1,-0.0037,0,0.972,549.50,1156.73)" font-size="17.8" fill="#d8483c" text-anchor="end" font-style="normal" font-weight="normal" stroke="#d8483c" stroke-width="0.20" >48.7</text>
<text transform="matrix(1,-0.0037,0,0.972,563.75,1156.67)" font-size="17.8" fill="#d8483c" text-anchor="start" font-style="normal" font-weight="normal" stroke="#d8483c" stroke-width="0.20" >kW</text>
<text transform="matrix(1,-0.0037,0,0.972,68.30,1180.10)" font-size="17.8" fill="#2f62b4" text-anchor="start" font-style="normal" font-weight="normal" stroke="#2f62b4" stroke-width="0.20" >Wheel power</text>
<text transform="matrix(1,-0.0037,0,0.972,280.00,1179.32)" font-size="17.8" fill="#2f62b4" text-anchor="start" font-style="normal" font-weight="normal" stroke="#2f62b4" stroke-width="0.20" >P<tspan font-size="11.75" dy="4.5">Wheel</tspan></text>
<text transform="matrix(1,-0.0037,0,0.972,410.70,1178.84)" font-size="17.8" fill="#2f62b4" text-anchor="end" font-style="normal" font-weight="normal" stroke="#2f62b4" stroke-width="0.20" >41.3</text>
<text transform="matrix(1,-0.0037,0,0.972,425.00,1178.78)" font-size="17.8" fill="#2f62b4" text-anchor="start" font-style="normal" font-weight="normal" stroke="#2f62b4" stroke-width="0.20" >BHP</text>
<text transform="matrix(1,-0.0037,0,0.972,490.00,1178.54)" font-size="17.8" fill="#2f62b4" text-anchor="start" font-style="normal" font-weight="normal" stroke="#2f62b4" stroke-width="0.20" >/</text>
<text transform="matrix(1,-0.0037,0,0.972,549.50,1178.33)" font-size="17.8" fill="#2f62b4" text-anchor="end" font-style="normal" font-weight="normal" stroke="#2f62b4" stroke-width="0.20" >30.8</text>
<text transform="matrix(1,-0.0037,0,0.972,563.75,1178.27)" font-size="17.8" fill="#2f62b4" text-anchor="start" font-style="normal" font-weight="normal" stroke="#2f62b4" stroke-width="0.20" >kW</text>
<text transform="matrix(1,-0.0037,0,0.972,68.30,1201.80)" font-size="17.8" fill="#2da14a" text-anchor="start" font-style="normal" font-weight="normal" stroke="#2da14a" stroke-width="0.20" >Drag power</text>
<text transform="matrix(1,-0.0037,0,0.972,280.00,1201.02)" font-size="17.8" fill="#2da14a" text-anchor="start" font-style="normal" font-weight="normal" stroke="#2da14a" stroke-width="0.20" >P<tspan font-size="11.75" dy="4.5">Drag</tspan></text>
<text transform="matrix(1,-0.0037,0,0.972,410.70,1200.54)" font-size="17.8" fill="#2da14a" text-anchor="end" font-style="normal" font-weight="normal" stroke="#2da14a" stroke-width="0.20" >24.1</text>
<text transform="matrix(1,-0.0037,0,0.972,425.00,1200.48)" font-size="17.8" fill="#2da14a" text-anchor="start" font-style="normal" font-weight="normal" stroke="#2da14a" stroke-width="0.20" >BHP</text>
<text transform="matrix(1,-0.0037,0,0.972,490.00,1200.24)" font-size="17.8" fill="#2da14a" text-anchor="start" font-style="normal" font-weight="normal" stroke="#2da14a" stroke-width="0.20" >/</text>
<text transform="matrix(1,-0.0037,0,0.972,549.50,1200.03)" font-size="17.8" fill="#2da14a" text-anchor="end" font-style="normal" font-weight="normal" stroke="#2da14a" stroke-width="0.20" >18.0</text>
<text transform="matrix(1,-0.0037,0,0.972,563.75,1199.97)" font-size="17.8" fill="#2da14a" text-anchor="start" font-style="normal" font-weight="normal" stroke="#2da14a" stroke-width="0.20" >kW</text>
<text transform="matrix(1,-0.0037,0,0.972,68.30,1223.10)" font-size="17.8" fill="#161616" text-anchor="start" font-style="normal" font-weight="normal" stroke="#161616" stroke-width="0.38" >Max. power at</text>
<text transform="matrix(1,-0.0037,0,0.972,410.70,1221.84)" font-size="17.8" fill="#a2a2a2" text-anchor="end" font-style="normal" font-weight="normal" stroke="#a2a2a2" stroke-width="0.20" >3570</text>
<text transform="matrix(1,-0.0037,0,0.972,425.00,1221.78)" font-size="17.8" fill="#a2a2a2" text-anchor="start" font-style="normal" font-weight="normal" stroke="#a2a2a2" stroke-width="0.20" >rpm</text>
<text transform="matrix(1,-0.0037,0,0.972,490.00,1221.54)" font-size="17.8" fill="#161616" text-anchor="start" font-style="normal" font-weight="normal" stroke="#161616" stroke-width="0.38" >/</text>
<text transform="matrix(1,-0.0037,0,0.972,549.50,1221.33)" font-size="17.8" fill="#161616" text-anchor="end" font-style="normal" font-weight="normal" stroke="#161616" stroke-width="0.38" >65.3</text>
<text transform="matrix(1,-0.0037,0,0.972,563.75,1221.27)" font-size="17.8" fill="#161616" text-anchor="start" font-style="normal" font-weight="normal" stroke="#161616" stroke-width="0.38" >mph</text>
<text transform="matrix(1,-0.0037,0,0.972,68.30,1254.25)" font-size="17.8" fill="#e0764e" text-anchor="start" font-style="normal" font-weight="normal" stroke="#e0764e" stroke-width="0.20" >Torque <tspan font-size="11.5" dx="2.1" dy="-1.5">1)</tspan></text>
<text transform="matrix(1,-0.0037,0,0.972,280.00,1253.47)" font-size="17.8" fill="#e0764e" text-anchor="start" font-style="normal" font-weight="normal" stroke="#e0764e" stroke-width="0.20" >M<tspan font-size="11.75" dy="4.5">Morm</tspan></text>
<text transform="matrix(1,-0.0037,0,0.972,410.70,1252.99)" font-size="17.8" fill="#e0764e" text-anchor="end" font-style="normal" font-weight="normal" stroke="#e0764e" stroke-width="0.20" >103.9</text>
<text transform="matrix(1,-0.0037,0,0.972,425.00,1252.93)" font-size="17.8" fill="#e0764e" text-anchor="start" font-style="normal" font-weight="normal" stroke="#e0764e" stroke-width="0.20" >lbf.ft</text>
<text transform="matrix(1,-0.0037,0,0.972,68.30,1275.10)" font-size="17.8" fill="#161616" text-anchor="start" font-style="normal" font-weight="normal" stroke="#161616" stroke-width="0.38" >Max. Torque at</text>
<text transform="matrix(1,-0.0037,0,0.972,410.70,1273.84)" font-size="17.8" fill="#a2a2a2" text-anchor="end" font-style="normal" font-weight="normal" stroke="#a2a2a2" stroke-width="0.20" >2750</text>
<text transform="matrix(1,-0.0037,0,0.972,425.00,1273.78)" font-size="17.8" fill="#a2a2a2" text-anchor="start" font-style="normal" font-weight="normal" stroke="#a2a2a2" stroke-width="0.20" >rpm</text>
<text transform="matrix(1,-0.0037,0,0.972,490.00,1273.54)" font-size="17.8" fill="#161616" text-anchor="start" font-style="normal" font-weight="normal" stroke="#161616" stroke-width="0.38" >/</text>
<text transform="matrix(1,-0.0037,0,0.972,549.50,1273.33)" font-size="17.8" fill="#161616" text-anchor="end" font-style="normal" font-weight="normal" stroke="#161616" stroke-width="0.38" >50.3</text>
<text transform="matrix(1,-0.0037,0,0.972,563.75,1273.27)" font-size="17.8" fill="#161616" text-anchor="start" font-style="normal" font-weight="normal" stroke="#161616" stroke-width="0.38" >mph</text>
<text transform="matrix(1,-0.0037,0,0.972,68.30,1304.25)" font-size="17.8" fill="#161616" text-anchor="start" font-style="normal" font-weight="normal" stroke="#161616" stroke-width="0.38" >Max. attained RPM</text>
<text transform="matrix(1,-0.0037,0,0.972,410.70,1302.99)" font-size="17.8" fill="#a2a2a2" text-anchor="end" font-style="normal" font-weight="normal" stroke="#a2a2a2" stroke-width="0.20" >4545</text>
<text transform="matrix(1,-0.0037,0,0.972,425.00,1302.93)" font-size="17.8" fill="#a2a2a2" text-anchor="start" font-style="normal" font-weight="normal" stroke="#a2a2a2" stroke-width="0.20" >rpm</text>
<text transform="matrix(1,-0.0037,0,0.972,490.00,1302.69)" font-size="17.8" fill="#161616" text-anchor="start" font-style="normal" font-weight="normal" stroke="#161616" stroke-width="0.38" >/</text>
<text transform="matrix(1,-0.0037,0,0.972,549.50,1302.48)" font-size="17.8" fill="#161616" text-anchor="end" font-style="normal" font-weight="normal" stroke="#161616" stroke-width="0.38" >82.0</text>
<text transform="matrix(1,-0.0037,0,0.972,563.75,1302.42)" font-size="17.8" fill="#161616" text-anchor="start" font-style="normal" font-weight="normal" stroke="#161616" stroke-width="0.38" >mph</text>
<text transform="matrix(1,-0.0037,0,0.972,68.75,1334.00)" font-size="11.5" fill="#d8483c" text-anchor="start" font-style="normal" font-weight="normal" stroke="#d8483c" stroke-width="0.16" >1)</text>
<text transform="matrix(1,-0.0037,0,0.972,83.75,1335.50)" font-size="17.8" fill="#d8483c" text-anchor="start" font-style="normal" font-weight="normal" stroke="#d8483c" stroke-width="0.20" >Correction acc. to DIN 70020</text>
<text transform="matrix(1,-0.0037,0,0.972,83.75,1357.50)" font-size="17.8" fill="#d8483c" text-anchor="start" font-style="normal" font-weight="normal" stroke="#d8483c" stroke-width="0.20" >Correction factors: Q<tspan font-size="12" dy="4.5">V</tspan><tspan dy="-4.5"> =   0.00 %</tspan></text>
<rect x="444" y="1359.4" width="5" height="1.3" fill="#777"/>
<rect x="628" y="1513.4" width="3" height="0.9" fill="#9a9a9a"/>
<text transform="matrix(1,-0.0037,0,0.972,643.75,1103.50)" font-size="26.5" fill="#161616" text-anchor="start" font-style="italic" font-weight="normal" stroke="#161616" stroke-width="0.46" >Ambient data</text>
<text transform="matrix(1,-0.0037,0,0.972,643.75,1134.25)" font-size="17.8" fill="#161616" text-anchor="start" font-style="normal" font-weight="normal" stroke="#161616" stroke-width="0.38" >Ambient temperature</text>
<text transform="matrix(1,-0.0037,0,0.972,907.60,1133.27)" font-size="17.8" fill="#161616" text-anchor="start" font-style="normal" font-weight="normal" stroke="#161616" stroke-width="0.38" >T<tspan font-size="11.75" dy="4.5">Ambient</tspan></text>
<text transform="matrix(1,-0.0037,0,0.972,1065.20,1132.69)" font-size="17.8" fill="#161616" text-anchor="end" font-style="normal" font-weight="normal" stroke="#161616" stroke-width="0.38" >23.5</text>
<text transform="matrix(1,-0.0037,0,0.972,1079.40,1132.64)" font-size="17.8" fill="#161616" text-anchor="start" font-style="normal" font-weight="normal" stroke="#161616" stroke-width="0.38" >°C</text>
<text transform="matrix(1,-0.0037,0,0.972,643.75,1156.25)" font-size="17.8" fill="#161616" text-anchor="start" font-style="normal" font-weight="normal" stroke="#161616" stroke-width="0.38" >Intake air temperature</text>
<text transform="matrix(1,-0.0037,0,0.972,907.60,1155.27)" font-size="17.8" fill="#161616" text-anchor="start" font-style="normal" font-weight="normal" stroke="#161616" stroke-width="0.38" >T<tspan font-size="11.75" dy="4.5">Intake air</tspan></text>
<text transform="matrix(1,-0.0037,0,0.972,1065.20,1154.69)" font-size="17.8" fill="#161616" text-anchor="end" font-style="normal" font-weight="normal" stroke="#161616" stroke-width="0.38" >22.6</text>
<text transform="matrix(1,-0.0037,0,0.972,1079.40,1154.64)" font-size="17.8" fill="#161616" text-anchor="start" font-style="normal" font-weight="normal" stroke="#161616" stroke-width="0.38" >°C</text>
<text transform="matrix(1,-0.0037,0,0.972,643.75,1178.00)" font-size="17.8" fill="#161616" text-anchor="start" font-style="normal" font-weight="normal" stroke="#161616" stroke-width="0.38" >Relative humidity</text>
<text transform="matrix(1,-0.0037,0,0.972,907.60,1177.02)" font-size="17.8" fill="#161616" text-anchor="start" font-style="normal" font-weight="normal" stroke="#161616" stroke-width="0.38" >H<tspan font-size="11.75" dy="4.5">Air</tspan></text>
<text transform="matrix(1,-0.0037,0,0.972,1065.20,1176.44)" font-size="17.8" fill="#161616" text-anchor="end" font-style="normal" font-weight="normal" stroke="#161616" stroke-width="0.38" >51.3</text>
<text transform="matrix(1,-0.0037,0,0.972,1079.40,1176.39)" font-size="17.8" fill="#161616" text-anchor="start" font-style="normal" font-weight="normal" stroke="#161616" stroke-width="0.38" >%</text>
<text transform="matrix(1,-0.0037,0,0.972,643.75,1200.00)" font-size="17.8" fill="#161616" text-anchor="start" font-style="normal" font-weight="normal" stroke="#161616" stroke-width="0.38" >Air pressure</text>
<text transform="matrix(1,-0.0037,0,0.972,907.60,1199.02)" font-size="17.8" fill="#161616" text-anchor="start" font-style="normal" font-weight="normal" stroke="#161616" stroke-width="0.38" >p<tspan font-size="11.75" dy="4.5">Air</tspan></text>
<text transform="matrix(1,-0.0037,0,0.972,1065.20,1198.44)" font-size="17.8" fill="#161616" text-anchor="end" font-style="normal" font-weight="normal" stroke="#161616" stroke-width="0.38" >1006.3</text>
<text transform="matrix(1,-0.0037,0,0.972,1079.40,1198.39)" font-size="17.8" fill="#161616" text-anchor="start" font-style="normal" font-weight="normal" stroke="#161616" stroke-width="0.38" >hPa</text>
<text transform="matrix(1,-0.0037,0,0.972,643.75,1221.75)" font-size="17.8" fill="#161616" text-anchor="start" font-style="normal" font-weight="normal" stroke="#161616" stroke-width="0.38" >Steam pressure</text>
<text transform="matrix(1,-0.0037,0,0.972,907.60,1220.77)" font-size="17.8" fill="#161616" text-anchor="start" font-style="normal" font-weight="normal" stroke="#161616" stroke-width="0.38" >p<tspan font-size="11.75" dy="4.5">Steam</tspan></text>
<text transform="matrix(1,-0.0037,0,0.972,1065.20,1220.19)" font-size="17.8" fill="#161616" text-anchor="end" font-style="normal" font-weight="normal" stroke="#161616" stroke-width="0.38" >14.8</text>
<text transform="matrix(1,-0.0037,0,0.972,1079.40,1220.14)" font-size="17.8" fill="#161616" text-anchor="start" font-style="normal" font-weight="normal" stroke="#161616" stroke-width="0.38" >hPa</text>
<text transform="matrix(1,-0.0037,0,0.972,643.75,1251.75)" font-size="17.8" fill="#161616" text-anchor="start" font-style="normal" font-weight="normal" stroke="#161616" stroke-width="0.38" >Oil temperature</text>
<text transform="matrix(1,-0.0037,0,0.972,907.60,1250.77)" font-size="17.8" fill="#161616" text-anchor="start" font-style="normal" font-weight="normal" stroke="#161616" stroke-width="0.38" >T<tspan font-size="11.75" dy="4.5">Oil</tspan></text>
<text transform="matrix(1,-0.0037,0,0.972,1065.20,1250.19)" font-size="17.8" fill="#161616" text-anchor="end" font-style="normal" font-weight="normal" stroke="#161616" stroke-width="0.38" >22.0</text>
<text transform="matrix(1,-0.0037,0,0.972,1079.40,1250.14)" font-size="17.8" fill="#161616" text-anchor="start" font-style="normal" font-weight="normal" stroke="#161616" stroke-width="0.38" >°C</text>
<text transform="matrix(1,-0.0037,0,0.972,643.75,1273.10)" font-size="17.8" fill="#161616" text-anchor="start" font-style="normal" font-weight="normal" stroke="#161616" stroke-width="0.38" >Fuel temperature</text>
<text transform="matrix(1,-0.0037,0,0.972,907.60,1272.12)" font-size="17.8" fill="#161616" text-anchor="start" font-style="normal" font-weight="normal" stroke="#161616" stroke-width="0.38" >T<tspan font-size="11.75" dy="4.5">Fuel</tspan></text>
<text transform="matrix(1,-0.0037,0,0.972,1065.20,1271.54)" font-size="17.8" fill="#161616" text-anchor="end" font-style="normal" font-weight="normal" stroke="#161616" stroke-width="0.38" >----.-</text>
<text transform="matrix(1,-0.0037,0,0.972,1079.40,1271.49)" font-size="17.8" fill="#161616" text-anchor="start" font-style="normal" font-weight="normal" stroke="#161616" stroke-width="0.38" >°C</text>
<text transform="matrix(1,-0.0037,0,0.972,70.00,1406.75)" font-size="26.5" fill="#161616" text-anchor="start" font-style="italic" font-weight="normal" stroke="#161616" stroke-width="0.46" >Slip</text>
<text transform="matrix(1,-0.0037,0,0.972,68.30,1437.25)" font-size="17.8" fill="#161616" text-anchor="start" font-style="normal" font-weight="normal" stroke="#161616" stroke-width="0.38" >Speed no load</text>
<text transform="matrix(1,-0.0037,0,0.972,372.50,1436.12)" font-size="17.8" fill="#161616" text-anchor="start" font-style="normal" font-weight="normal" stroke="#161616" stroke-width="0.38" >v<tspan font-size="11.75" dy="4.5">no load</tspan></text>
<text transform="matrix(1,-0.0037,0,0.972,531.25,1435.54)" font-size="17.8" fill="#161616" text-anchor="end" font-style="normal" font-weight="normal" stroke="#161616" stroke-width="0.38" >----.-</text>
<text transform="matrix(1,-0.0037,0,0.972,543.75,1435.49)" font-size="17.8" fill="#161616" text-anchor="start" font-style="normal" font-weight="normal" stroke="#161616" stroke-width="0.38" >mph</text>
<text transform="matrix(1,-0.0037,0,0.972,68.30,1458.70)" font-size="17.8" fill="#161616" text-anchor="start" font-style="normal" font-weight="normal" stroke="#161616" stroke-width="0.38" >RPM no load</text>
<text transform="matrix(1,-0.0037,0,0.972,372.50,1457.57)" font-size="17.8" fill="#161616" text-anchor="start" font-style="normal" font-weight="normal" stroke="#161616" stroke-width="0.38" >n<tspan font-size="11.75" dy="4.5">no load</tspan></text>
<text transform="matrix(1,-0.0037,0,0.972,531.25,1456.99)" font-size="17.8" fill="#161616" text-anchor="end" font-style="normal" font-weight="normal" stroke="#161616" stroke-width="0.38" >-----</text>
<text transform="matrix(1,-0.0037,0,0.972,543.75,1456.94)" font-size="17.8" fill="#161616" text-anchor="start" font-style="normal" font-weight="normal" stroke="#161616" stroke-width="0.38" >rpm</text>
<text transform="matrix(1,-0.0037,0,0.972,68.30,1480.50)" font-size="17.8" fill="#161616" text-anchor="start" font-style="normal" font-weight="normal" stroke="#161616" stroke-width="0.38" >Speed full load</text>
<text transform="matrix(1,-0.0037,0,0.972,372.50,1479.37)" font-size="17.8" fill="#161616" text-anchor="start" font-style="normal" font-weight="normal" stroke="#161616" stroke-width="0.38" >v<tspan font-size="11.75" dy="4.5">full load</tspan></text>
<text transform="matrix(1,-0.0037,0,0.972,531.25,1478.79)" font-size="17.8" fill="#161616" text-anchor="end" font-style="normal" font-weight="normal" stroke="#161616" stroke-width="0.38" >----.-</text>
<text transform="matrix(1,-0.0037,0,0.972,543.75,1478.74)" font-size="17.8" fill="#161616" text-anchor="start" font-style="normal" font-weight="normal" stroke="#161616" stroke-width="0.38" >mph</text>
<text transform="matrix(1,-0.0037,0,0.972,68.30,1502.25)" font-size="17.8" fill="#161616" text-anchor="start" font-style="normal" font-weight="normal" stroke="#161616" stroke-width="0.38" >RPM full load</text>
<text transform="matrix(1,-0.0037,0,0.972,372.50,1501.12)" font-size="17.8" fill="#161616" text-anchor="start" font-style="normal" font-weight="normal" stroke="#161616" stroke-width="0.38" >n<tspan font-size="11.75" dy="4.5">full load</tspan></text>
<text transform="matrix(1,-0.0037,0,0.972,531.25,1500.54)" font-size="17.8" fill="#161616" text-anchor="end" font-style="normal" font-weight="normal" stroke="#161616" stroke-width="0.38" >-----</text>
<text transform="matrix(1,-0.0037,0,0.972,543.75,1500.49)" font-size="17.8" fill="#161616" text-anchor="start" font-style="normal" font-weight="normal" stroke="#161616" stroke-width="0.38" >rpm</text>
<text transform="matrix(1,-0.0037,0,0.972,68.30,1532.25)" font-size="17.8" fill="#161616" text-anchor="start" font-style="normal" font-weight="normal" stroke="#161616" stroke-width="0.38" >Slip</text>
<text transform="matrix(1,-0.0037,0,0.972,531.25,1530.54)" font-size="17.8" fill="#161616" text-anchor="end" font-style="normal" font-weight="normal" stroke="#161616" stroke-width="0.38" >---.--</text>
<text transform="matrix(1,-0.0037,0,0.972,543.75,1530.49)" font-size="17.8" fill="#161616" text-anchor="start" font-style="normal" font-weight="normal" stroke="#161616" stroke-width="0.38" >%</text>
<text transform="matrix(1,-0.0037,0,0.972,643.75,1404.25)" font-size="26.5" fill="#161616" text-anchor="start" font-style="italic" font-weight="normal" stroke="#161616" stroke-width="0.46" >Rotating mass</text>
<text transform="matrix(1,-0.0037,0,0.972,643.00,1435.00)" font-size="17.8" fill="#161616" text-anchor="start" font-style="normal" font-weight="normal" stroke="#161616" stroke-width="0.38" >Average delay run down 1</text>
<text transform="matrix(1,-0.0037,0,0.972,946.25,1433.88)" font-size="17.8" fill="#161616" text-anchor="start" font-style="normal" font-weight="normal" stroke="#161616" stroke-width="0.38" >a<tspan font-size="11.75" dy="4.5">1</tspan></text>
<text transform="matrix(1,-0.0037,0,0.972,1104.50,1433.29)" font-size="17.8" fill="#161616" text-anchor="end" font-style="normal" font-weight="normal" stroke="#161616" stroke-width="0.38" >---.---</text>
<text transform="matrix(1,-0.0037,0,0.972,1118.00,1433.24)" font-size="17.8" fill="#161616" text-anchor="start" font-style="normal" font-weight="normal" stroke="#161616" stroke-width="0.38" >m/s<tspan font-size="11.5" dy="-2.2">2</tspan></text>
<text transform="matrix(1,-0.0037,0,0.972,643.00,1456.75)" font-size="17.8" fill="#161616" text-anchor="start" font-style="normal" font-weight="normal" stroke="#161616" stroke-width="0.38" >Average Brake force run down 1</text>
<text transform="matrix(1,-0.0037,0,0.972,946.25,1455.63)" font-size="17.8" fill="#161616" text-anchor="start" font-style="normal" font-weight="normal" stroke="#161616" stroke-width="0.38" >F<tspan font-size="11.75" dy="4.5">1</tspan></text>
<text transform="matrix(1,-0.0037,0,0.972,1104.50,1455.04)" font-size="17.8" fill="#161616" text-anchor="end" font-style="normal" font-weight="normal" stroke="#161616" stroke-width="0.38" >-----.-</text>
<text transform="matrix(1,-0.0037,0,0.972,1118.00,1454.99)" font-size="17.8" fill="#161616" text-anchor="start" font-style="normal" font-weight="normal" stroke="#161616" stroke-width="0.38" >lbf</text>
<text transform="matrix(1,-0.0037,0,0.972,643.00,1478.50)" font-size="17.8" fill="#161616" text-anchor="start" font-style="normal" font-weight="normal" stroke="#161616" stroke-width="0.38" >Average delay run down 2</text>
<text transform="matrix(1,-0.0037,0,0.972,946.25,1477.38)" font-size="17.8" fill="#161616" text-anchor="start" font-style="normal" font-weight="normal" stroke="#161616" stroke-width="0.38" >a<tspan font-size="11.75" dy="4.5">2</tspan></text>
<text transform="matrix(1,-0.0037,0,0.972,1104.50,1476.79)" font-size="17.8" fill="#161616" text-anchor="end" font-style="normal" font-weight="normal" stroke="#161616" stroke-width="0.38" >---.---</text>
<text transform="matrix(1,-0.0037,0,0.972,1118.00,1476.74)" font-size="17.8" fill="#161616" text-anchor="start" font-style="normal" font-weight="normal" stroke="#161616" stroke-width="0.38" >m/s<tspan font-size="11.5" dy="-2.2">2</tspan></text>
<text transform="matrix(1,-0.0037,0,0.972,643.00,1500.10)" font-size="17.8" fill="#161616" text-anchor="start" font-style="normal" font-weight="normal" stroke="#161616" stroke-width="0.38" >Average brake force run down 2</text>
<text transform="matrix(1,-0.0037,0,0.972,946.25,1498.98)" font-size="17.8" fill="#161616" text-anchor="start" font-style="normal" font-weight="normal" stroke="#161616" stroke-width="0.38" >F<tspan font-size="11.75" dy="4.5">2</tspan></text>
<text transform="matrix(1,-0.0037,0,0.972,1104.50,1498.39)" font-size="17.8" fill="#161616" text-anchor="end" font-style="normal" font-weight="normal" stroke="#161616" stroke-width="0.38" >-----.-</text>
<text transform="matrix(1,-0.0037,0,0.972,1118.00,1498.34)" font-size="17.8" fill="#161616" text-anchor="start" font-style="normal" font-weight="normal" stroke="#161616" stroke-width="0.38" >lbf</text>
<text transform="matrix(1,-0.0037,0,0.972,643.00,1530.50)" font-size="17.8" fill="#161616" text-anchor="start" font-style="normal" font-weight="normal" stroke="#161616" stroke-width="0.38" >Force of the rotating mass</text>
<text transform="matrix(1,-0.0037,0,0.972,946.25,1529.38)" font-size="17.8" fill="#161616" text-anchor="start" font-style="normal" font-weight="normal" stroke="#161616" stroke-width="0.38" >F<tspan font-size="11.75" dy="4.5">rot-total</tspan></text>
<text transform="matrix(1,-0.0037,0,0.972,1104.50,1528.79)" font-size="17.8" fill="#161616" text-anchor="end" font-style="normal" font-weight="normal" stroke="#161616" stroke-width="0.38" >-----.-</text>
<text transform="matrix(1,-0.0037,0,0.972,1118.00,1528.74)" font-size="17.8" fill="#161616" text-anchor="start" font-style="normal" font-weight="normal" stroke="#161616" stroke-width="0.38" >lbf</text>
<text transform="matrix(1,-0.0037,0,0.972,643.00,1560.50)" font-size="17.8" fill="#161616" text-anchor="start" font-style="normal" font-weight="normal" stroke="#161616" stroke-width="0.38" >Rotating total mass</text>
<text transform="matrix(1,-0.0037,0,0.972,946.25,1559.38)" font-size="17.8" fill="#161616" text-anchor="start" font-style="normal" font-weight="normal" stroke="#161616" stroke-width="0.38" >m<tspan font-size="11.75" dy="4.5">rot-total</tspan></text>
<text transform="matrix(1,-0.0037,0,0.972,1104.50,1558.79)" font-size="17.8" fill="#161616" text-anchor="end" font-style="normal" font-weight="normal" stroke="#161616" stroke-width="0.38" >310.0</text>
<text transform="matrix(1,-0.0037,0,0.972,1118.00,1558.74)" font-size="17.8" fill="#161616" text-anchor="start" font-style="normal" font-weight="normal" stroke="#161616" stroke-width="0.38" >kg</text>
<text transform="matrix(1,-0.0037,0,0.972,643.00,1582.50)" font-size="17.8" fill="#161616" text-anchor="start" font-style="normal" font-weight="normal" stroke="#161616" stroke-width="0.38" >Rotating test stand mass</text>
<text transform="matrix(1,-0.0037,0,0.972,946.25,1581.38)" font-size="17.8" fill="#161616" text-anchor="start" font-style="normal" font-weight="normal" stroke="#161616" stroke-width="0.38" >m<tspan font-size="11.75" dy="4.5">rot-dyno</tspan></text>
<text transform="matrix(1,-0.0037,0,0.972,1104.50,1580.79)" font-size="17.8" fill="#161616" text-anchor="end" font-style="normal" font-weight="normal" stroke="#161616" stroke-width="0.38" >250.0</text>
<text transform="matrix(1,-0.0037,0,0.972,1118.00,1580.74)" font-size="17.8" fill="#161616" text-anchor="start" font-style="normal" font-weight="normal" stroke="#161616" stroke-width="0.38" >kg</text>
<text transform="matrix(1,-0.0037,0,0.972,643.00,1603.80)" font-size="17.8" fill="#161616" text-anchor="start" font-style="normal" font-weight="normal" stroke="#161616" stroke-width="0.38" >Rotating vehicle mass</text>
<text transform="matrix(1,-0.0037,0,0.972,946.25,1602.68)" font-size="17.8" fill="#161616" text-anchor="start" font-style="normal" font-weight="normal" stroke="#161616" stroke-width="0.38" >m<tspan font-size="11.75" dy="4.5">rot-vehicle</tspan></text>
<text transform="matrix(1,-0.0037,0,0.972,1104.50,1602.09)" font-size="17.8" fill="#161616" text-anchor="end" font-style="normal" font-weight="normal" stroke="#161616" stroke-width="0.38" >60.0</text>
<text transform="matrix(1,-0.0037,0,0.972,1118.00,1602.04)" font-size="17.8" fill="#161616" text-anchor="start" font-style="normal" font-weight="normal" stroke="#161616" stroke-width="0.38" >kg</text>
<text transform="matrix(1,-0.0037,0,0.972,42.00,1639.25)" font-size="11.5" fill="#161616" text-anchor="start" font-style="normal" font-weight="normal" stroke="#161616" stroke-width="0.12" >LPS 3000 PKW V 1.09.001 (16.02.2007)</text>
<text transform="matrix(1,-0.0037,0,0.972,639.50,1637.80)" font-size="11.5" fill="#161616" text-anchor="start" font-style="normal" font-weight="normal" stroke="#161616" stroke-width="0.12" >(100/000/0000/000/0000)</text>
<text transform="matrix(1,-0.0037,0,0.972,1189.50,1636.50)" font-size="11.5" fill="#161616" text-anchor="end" font-style="normal" font-weight="normal" stroke="#161616" stroke-width="0.12" >LPS-EURO V1.24.001</text>
</svg>
</body></html>
